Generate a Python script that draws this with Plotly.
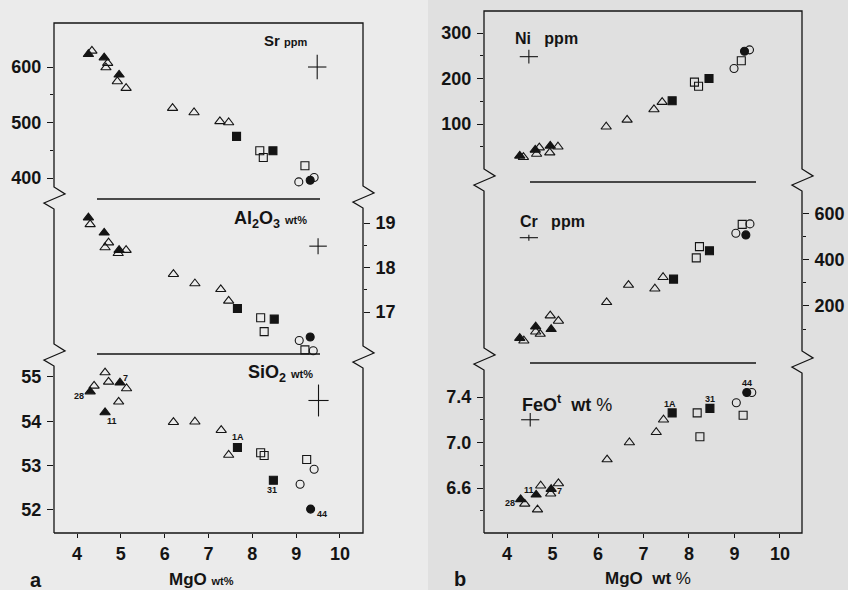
import plotly.graph_objects as go

W, H = 848, 590

# ---------------- data ----------------
# group order: 3 filled triangles, 9 open triangles, 2 filled squares,
# 3 open squares, 1 filled circle, 2 open circles
GROUPS = ['ft'] * 3 + ['ot'] * 9 + ['fs'] * 2 + ['os'] * 3 + ['fc'] + ['oc'] * 2
SAMPLE_IDS = ['28', '11', '7'] + [''] * 9 + ['1A', '31'] + [''] * 3 + ['44'] + [''] * 2

SR_MGO = [4.26, 4.62, 4.96, 4.34, 4.66, 4.70, 4.92, 5.12, 6.18, 6.67, 7.26, 7.46,
          7.64, 8.47, 8.17, 8.25, 9.20, 9.32, 9.06, 9.41]
SR_PPM = [623, 617, 586, 629, 599, 607, 574, 562, 526, 518, 502, 500,
          475, 449, 449, 437, 422, 396, 393, 401]

AL_MGO = [4.26, 4.62, 4.96, 4.30, 4.64, 4.72, 4.94, 5.12, 6.20, 6.69, 7.28, 7.46,
          7.66, 8.50, 8.19, 8.27, 9.20, 9.32, 9.07, 9.39]
AL2O3 = [19.12, 18.78, 18.39, 18.97, 18.45, 18.56, 18.32, 18.39, 17.85, 17.64, 17.51, 17.25,
         17.08, 16.84, 16.87, 16.56, 16.15, 16.44, 16.36, 16.13]

SI_MGO = [4.30, 4.64, 4.98, 4.39, 4.64, 4.72, 4.95, 5.13, 6.20, 6.69, 7.29, 7.46,
          7.66, 8.48, 8.19, 8.27, 9.24, 9.33, 9.09, 9.41]
SIO2 = [54.67, 54.20, 54.87, 54.80, 55.10, 54.89, 54.44, 54.74, 53.98, 53.99, 53.80, 53.24,
        53.41, 52.67, 53.29, 53.23, 53.14, 52.02, 52.58, 52.92]

NI_MGO = [4.28, 4.62, 4.95, 4.36, 4.65, 4.71, 4.94, 5.12, 6.18, 6.64, 7.23, 7.41,
          7.63, 8.44, 8.12, 8.21, 9.15, 9.22, 8.99, 9.33]
NI_PPM = [30, 43, 52, 27, 34, 48, 37, 50, 94, 109, 132, 148,
          151, 200, 192, 183, 239, 260, 222, 263]

CR_MGO = [4.28, 4.63, 4.97, 4.37, 4.63, 4.73, 4.95, 5.13, 6.19, 6.67, 7.25, 7.43,
          7.66, 8.45, 8.16, 8.23, 9.17, 9.25, 9.03, 9.34]
CR_PPM = [60, 110, 99, 49, 88, 78, 158, 135, 216, 291, 275, 325,
          317, 440, 409, 458, 555, 509, 516, 557]

FE_MGO = [4.30, 4.64, 4.97, 4.39, 4.67, 4.74, 4.96, 5.13, 6.20, 6.69, 7.28, 7.44,
          7.63, 8.46, 8.18, 8.24, 9.19, 9.27, 9.04, 9.38]
FEOT = [6.50, 6.54, 6.59, 6.46, 6.41, 6.62, 6.55, 6.64, 6.85, 7.00, 7.09, 7.20,
        7.26, 7.30, 7.26, 7.05, 7.24, 7.44, 7.35, 7.44]

# analytical uncertainty crosses: (MgO, value, +-MgO, +-value)
ERR_SR = (9.48, 600, 0.21, 22)
ERR_AL = (9.50, 18.48, 0.20, 0.18)
ERR_SI = (9.51, 54.47, 0.23, 0.36)
ERR_NI = (4.48, 248, 0.20, 15)
ERR_CR = (4.48, 497, 0.20, 13)
ERR_FE = (4.51, 7.20, 0.20, 0.06)

X_TICKS = [4, 5, 6, 7, 8, 9, 10]

# ---------------- helpers ----------------
def fx(p):
    return p / W


def fy(p):
    return 1 - p / H


FONT = "Liberation Sans"
INK = "#141414"
SYM = {'ft': 'triangle-up', 'ot': 'triangle-up-open', 'fs': 'square',
       'os': 'square-open', 'fc': 'circle', 'oc': 'circle-open'}
SIZE = {'ft': 9, 'ot': 9, 'fs': 8, 'os': 8, 'fc': 8, 'oc': 8}

fig = go.Figure()


def add_points(xs, ys, xa, ya):
    for g in ['ot', 'ft', 'os', 'fs', 'oc', 'fc']:
        px_ = [x for x, gg in zip(xs, GROUPS) if gg == g]
        py_ = [y for y, gg in zip(ys, GROUPS) if gg == g]
        fig.add_trace(go.Scatter(
            x=px_, y=py_, mode='markers', xaxis=xa, yaxis=ya, showlegend=False,
            hoverinfo='skip',
            marker=dict(symbol=SYM[g], size=SIZE[g], color=INK,
                        line=dict(color=INK, width=1.1)),
            cliponaxis=False))


def add_err(e, xa, ya):
    x, y, dx, dy = e
    fig.add_trace(go.Scatter(
        x=[x], y=[y], mode='markers', xaxis=xa, yaxis=ya, showlegend=False,
        hoverinfo='skip', marker=dict(size=1, color='rgba(0,0,0,0)'),
        error_x=dict(type='data', array=[dx], width=0, thickness=1.1, color=INK),
        error_y=dict(type='data', array=[dy], width=0, thickness=1.1, color=INK)))


add_points(SR_MGO, SR_PPM, 'x', 'y')
add_points(AL_MGO, AL2O3, 'x', 'y2')
add_points(SI_MGO, SIO2, 'x', 'y3')
add_points(NI_MGO, NI_PPM, 'x2', 'y5')
add_points(CR_MGO, CR_PPM, 'x2', 'y6')
add_points(FE_MGO, FEOT, 'x2', 'y7')
add_err(ERR_SR, 'x', 'y')
add_err(ERR_AL, 'x', 'y2')
add_err(ERR_SI, 'x', 'y3')
add_err(ERR_NI, 'x2', 'y5')
add_err(ERR_CR, 'x2', 'y6')
add_err(ERR_FE, 'x2', 'y7')

# sample labels
SI_OFF = {'28': (-11, -4), '11': (7, -9), '7': (6, 5), '1A': (1, 10), '31': (-1, -10), '44': (11, -5)}
FE_OFF = {'28': (-11, -4), '11': (-7, 5), '7': (8, -2), '1A': (-2, 9), '31': (0, 9), '44': (0, 9)}
ann = []
for xs, ys, off, xa, ya in [(SI_MGO, SIO2, SI_OFF, 'x', 'y3'), (FE_MGO, FEOT, FE_OFF, 'x2', 'y7')]:
    for x, y, sid in zip(xs, ys, SAMPLE_IDS):
        if sid:
            ann.append(dict(x=x, y=y, xref=xa, yref=ya, text='<b>%s</b>' % sid, showarrow=False,
                            xshift=off[sid][0], yshift=off[sid][1],
                            font=dict(family=FONT, size=9, color=INK)))

# panel titles / labels
def label(px, py, text, size=16, anchor='left'):
    ann.append(dict(x=fx(px), y=fy(py), xref='paper', yref='paper', text=text, showarrow=False,
                    xanchor=anchor, yanchor='middle', font=dict(family=FONT, size=size, color=INK)))


label(262, 40, "<b>Sr</b> <b><span style='font-size:11px'>ppm</span></b>", 15)
label(232, 219, "<b>Al<sub>2</sub>O<sub>3</sub></b> <b><span style='font-size:11px'>wt%</span></b>", 18)
label(246, 373, "<b>SiO<sub>2</sub></b> <b><span style='font-size:11px'>wt%</span></b>", 18)
label(513, 39, "<b>Ni   ppm</b>", 16)
label(518, 221, "<b>Cr   ppm</b>", 16)
label(520, 403, "<b>FeO<sup>t</sup>  wt</b> %", 18)
label(167, 579, "<b>MgO</b> <b><span style='font-size:11px'>wt%</span></b>", 17)
label(603, 578, "<b>MgO  wt</b> %", 17)
label(28, 580, "<b>a</b>", 20)
label(452, 579, "<b>b</b>", 20)

# ---------------- frame (with axis-break zigzags) ----------------
def zig(x, c):
    return [(x, c - 11), (x + 11, c - 4), (x - 10, c + 5), (x, c + 11)]


def frame_path(xl, xr, top, bot, lb, rb):
    pts = [(xl, bot)]
    for c in sorted(lb, reverse=True):
        pts += list(reversed(zig(xl, c)))
    pts += [(xl, top), (xr, top)]
    for c in sorted(rb):
        pts += zig(xr, c)
    pts += [(xr, bot), (xl, bot)]
    return 'M ' + ' L '.join('%.5f,%.5f' % (fx(a), fy(b)) for a, b in pts)


shapes = [
    dict(type='rect', xref='paper', yref='paper', x0=fx(428), x1=1, y0=0, y1=1,
         fillcolor='#e0e0e0', line=dict(width=0), layer='below'),
    dict(type='path', xref='paper', yref='paper', layer='above',
         path=frame_path(54, 363, 23, 533, [198, 355], [197, 357]),
         line=dict(color=INK, width=1.3)),
    dict(type='path', xref='paper', yref='paper', layer='above',
         path=frame_path(484, 802, 11, 533, [180, 359], [180, 362]),
         line=dict(color=INK, width=1.3)),
]
for (x0, x1, y) in [(97, 320, 199), (97, 320, 354), (530, 756, 182), (530, 756, 363)]:
    shapes.append(dict(type='line', xref='paper', yref='paper', x0=fx(x0), x1=fx(x1),
                       y0=fy(y), y1=fy(y), line=dict(color=INK, width=1.3)))

# ---------------- axes ----------------
TICKFONT = dict(family=FONT, size=18, color=INK, weight='bold')


def xaxis(domain, rng, anchor, side='bottom', ticks='outside', labels=False, overlay=None, ln=5):
    d = dict(range=rng, anchor=anchor, side=side, tickmode='array', tickvals=X_TICKS,
             ticks=ticks, ticklen=ln, tickwidth=1.3, tickcolor=INK, showgrid=False,
             zeroline=False, showline=False, showticklabels=labels, tickfont=TICKFONT,
             ticklabelstandoff=0, fixedrange=True, automargin=False)
    if overlay:
        d['overlaying'] = overlay
    else:
        d['domain'] = domain
    return d


def yaxis(domain, rng, anchor, side, vals, text=None, overlay=None, minor=None):
    d = dict(range=rng, anchor=anchor, side=side, tickmode='array', tickvals=vals,
             ticks='outside', ticklen=6, tickwidth=1.3, tickcolor=INK, showgrid=False,
             zeroline=False, showline=False, fixedrange=True, tickfont=TICKFONT,
             ticklabelstandoff=2, automargin=False)
    if text is None:
        d['showticklabels'] = False
    else:
        d['ticktext'] = text
    if minor:
        d['minor'] = dict(tickmode='array', tickvals=minor, ticks='outside', ticklen=3,
                          tickwidth=1.2, tickcolor=INK, showgrid=False)
    if overlay:
        d['overlaying'] = overlay
    else:
        d['domain'] = domain
    return d


XA_RANGE = [3.475, 10.525]
XB_RANGE = [3.494, 10.484]
xa_dom = [fx(54), fx(363)]
xb_dom = [fx(484), fx(802)]

layout_axes = dict(
    xaxis=xaxis(xa_dom, XA_RANGE, 'y3', labels=True, ln=4),
    xaxis3=xaxis(None, XA_RANGE, 'y3', ticks='inside', overlay='x', ln=4),
    xaxis5=xaxis(None, XA_RANGE, 'y', side='top', overlay='x', ln=5),
    xaxis7=xaxis(None, XA_RANGE, 'y', side='top', ticks='inside', overlay='x', ln=5),
    xaxis2=xaxis(xb_dom, XB_RANGE, 'y7', labels=True, ln=4),
    xaxis4=xaxis(None, XB_RANGE, 'y7', ticks='inside', overlay='x2', ln=4),
    xaxis6=xaxis(None, XB_RANGE, 'y5', side='top', overlay='x2', ln=6),
    xaxis8=xaxis(None, XB_RANGE, 'y5', side='top', ticks='inside', overlay='x2', ln=6),

    yaxis=yaxis([fy(193), fy(23)], [373.0, 679.3], 'x', 'left', [400, 500, 600],
                ['400', '500', '600'], minor=[450, 550]),
    yaxis8=yaxis(None, [373.0, 679.3], 'x', 'right', [400, 450, 500, 550, 600], overlay='y'),
    yaxis2=yaxis([fy(355), fy(196)], [16.034, 19.607], 'x', 'right', [17, 18, 19],
                 ['17', '18', '19'], minor=[17.5, 18.5]),
    yaxis9=yaxis(None, [16.034, 19.607], 'x', 'left', [17, 17.5, 18, 18.5, 19], overlay='y2'),
    yaxis3=yaxis([fy(533), fy(357)], [51.481, 55.451], 'x', 'left', [52, 53, 54, 55],
                 ['52', '53', '54', '55']),
    yaxis10=yaxis(None, [51.481, 55.451], 'x', 'right', [52, 52.5, 53, 53.5, 54, 54.5, 55], overlay='y3'),

    yaxis5=yaxis([fy(178), fy(11)], [-18.7, 348.4], 'x2', 'left', [100, 200, 300],
                 ['100', '200', '300'], minor=[50, 150, 250]),
    yaxis11=yaxis(None, [-18.7, 348.4], 'x2', 'right', [50, 100, 150, 200, 250, 300], overlay='y5'),
    yaxis6=yaxis([fy(360), fy(184)], [-34.8, 730.4], 'x2', 'right', [200, 400, 600],
                 ['200', '400', '600'], minor=[100, 300, 500]),
    yaxis12=yaxis(None, [-34.8, 730.4], 'x2', 'left', [0, 100, 200, 300, 400, 500, 600], overlay='y6'),
    yaxis7=yaxis([fy(533), fy(366)], [6.2044, 7.6725], 'x2', 'left', [6.6, 7.0, 7.4],
                 ['6.6', '7.0', '7.4'], minor=[6.4, 6.8, 7.2]),
    yaxis13=yaxis(None, [6.2044, 7.6725], 'x2', 'right', [6.4, 6.6, 6.8, 7.0, 7.2, 7.4], overlay='y7'),
)

fig.update_layout(
    width=W, height=H, margin=dict(l=0, r=0, t=0, b=0, pad=0, autoexpand=False),
    paper_bgcolor='#ebebeb', plot_bgcolor='rgba(0,0,0,0)',
    font=dict(family=FONT, color=INK), showlegend=False,
    annotations=ann, shapes=shapes, **layout_axes)

fig.write_html("out.html", config={'displayModeBar': False},
               post_script="document.body.style.margin='0';document.body.style.overflow='hidden';")
